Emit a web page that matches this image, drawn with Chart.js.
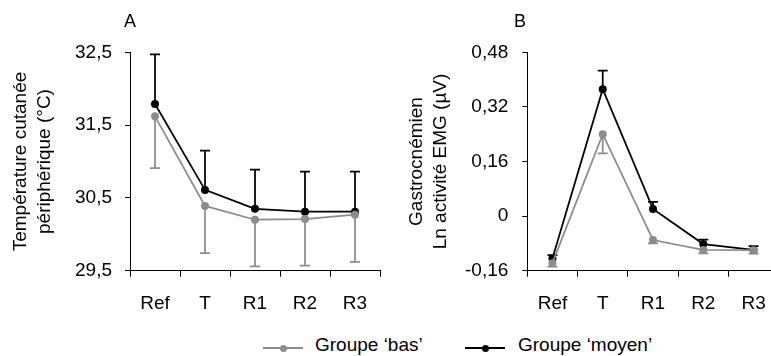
<!DOCTYPE html>
<html>
<head>
<meta charset="utf-8">
<script src="https://cdn.jsdelivr.net/npm/chart.js@4/dist/chart.umd.min.js"></script>
<style>
  html, body { margin:0; padding:0; background:#fff; overflow:hidden; width:771px; height:356px; }
  body { position:relative; font-family:'Liberation Sans', Arial, sans-serif; }
  canvas { position:absolute; top:0; }
  #cA { left:0; }
  #cB { left:390px; }
  .lg-line { position:absolute; height:2px; }
  .lg-dot { position:absolute; width:7px; height:7px; border-radius:50%; }
  .lg-text { position:absolute; top:334px; font-size:19px; line-height:22px; color:#000; white-space:nowrap; }
</style>
</head>
<body>
<canvas id="cA" width="390" height="320"></canvas>
<canvas id="cB" width="400" height="320"></canvas>

<div class="lg-line" style="left:263px; top:347px; width:40px; background:#8c8c8c;"></div>
<div class="lg-dot" style="left:279.5px; top:344.5px; background:#8c8c8c;"></div>
<div class="lg-text" style="left:315px;">Groupe ‘bas’</div>
<div class="lg-line" style="left:465px; top:347px; width:40px; background:#000;"></div>
<div class="lg-dot" style="left:481.5px; top:344.5px; background:#000;"></div>
<div class="lg-text" style="left:518px;">Groupe ‘moyen’</div>

<script>
// ---- data ----
const categories = ['Ref', 'T', 'R1', 'R2', 'R3'];
const seriesNames = ['Groupe ‘bas’', 'Groupe ‘moyen’'];

// Panel A : température cutanée périphérique (°C)
const tempBas      = [31.62, 30.39, 30.20, 30.21, 30.27];
const tempBasErr   = [0.71, 0.65, 0.64, 0.64, 0.65];
const tempMoyen    = [31.79, 30.61, 30.35, 30.31, 30.31];
const tempMoyenErr = [0.68, 0.54, 0.54, 0.55, 0.55];
const tempTicks    = [29.5, 30.5, 31.5, 32.5];

// Panel B : Ln activité EMG (µV)
const emgBas       = [-0.138, 0.240, -0.070, -0.099, -0.100];
const emgBasErr    = [0.010, 0.056, 0.010, 0.010, 0.010];
const emgMoyen     = [-0.124, 0.372, 0.021, -0.082, -0.099];
const emgMoyenErr  = [0.010, 0.054, 0.021, 0.013, 0.011];
const emgTicks     = [-0.16, 0, 0.16, 0.32, 0.48];

const GRAY = '#8c8c8c';
const BLACK = '#000000';
const FONT = "'Liberation Sans', Arial, sans-serif";

Chart.defaults.font.family = FONT;
Chart.defaults.color = '#000';

const errorBarPlugin = {
  id: 'errorBars',
  beforeDatasetsDraw(chart) {
    const ctx = chart.ctx;
    const ys = chart.scales.y;
    chart.data.datasets.forEach((ds, i) => {
      const meta = chart.getDatasetMeta(i);
      meta.data.forEach((pt, j) => {
        const v = ds.data[j];
        const e = ds.errors[j];
        const py = ys.getPixelForValue(v);
        const pe = ys.getPixelForValue(v + ds.errDir * e);
        ctx.save();
        ctx.strokeStyle = ds.borderColor;
        ctx.lineWidth = 1.75;
        ctx.beginPath();
        ctx.moveTo(pt.x, py);
        ctx.lineTo(pt.x, pe);
        ctx.moveTo(pt.x - 5, pe);
        ctx.lineTo(pt.x + 5, pe);
        ctx.stroke();
        ctx.restore();
      });
    });
  }
};

const panelLabelPlugin = {
  id: 'panelLabel',
  afterDraw(chart, args, opts) {
    const ctx = chart.ctx;
    ctx.save();
    ctx.font = '18px ' + FONT;
    ctx.fillStyle = '#000';
    ctx.textBaseline = 'alphabetic';
    ctx.textAlign = 'left';
    ctx.fillText(opts.text, opts.x, opts.y);
    ctx.restore();
  }
};

function makeDatasets(bas, basErr, moyen, moyenErr) {
  return [
    { label: seriesNames[0], data: bas, errors: basErr, errDir: -1,
      borderColor: GRAY, backgroundColor: GRAY, pointBackgroundColor: GRAY, pointBorderColor: GRAY,
      borderWidth: 1.75, pointRadius: 4, pointBorderWidth: 0, tension: 0 },
    { label: seriesNames[1], data: moyen, errors: moyenErr, errDir: 1,
      borderColor: BLACK, backgroundColor: BLACK, pointBackgroundColor: BLACK, pointBorderColor: BLACK,
      borderWidth: 1.75, pointRadius: 4, pointBorderWidth: 0, tension: 0 }
  ];
}

function makeOptions(cfg) {
  return {
    responsive: false,
    animation: false,
    devicePixelRatio: 1,
    layout: { padding: { top: 52.3, right: cfg.padRight, bottom: 0, left: 0 } },
    plugins: {
      legend: { display: false },
      tooltip: { enabled: false },
      panelLabel: { text: cfg.label, x: 124, y: 26.5 }
    },
    scales: {
      x: {
        type: 'category',
        offset: true,
        grid: { offset: true, drawOnChartArea: false, drawTicks: true, tickLength: 6, color: '#000', lineWidth: 1 },
        border: { display: true, color: '#000', width: 1 },
        ticks: { padding: 16, font: { size: 19 }, color: '#000', maxRotation: 0, autoSkip: false },
        afterFit(s) { s.height = 49.3; }
      },
      y: {
        min: cfg.min, max: cfg.max,
        afterBuildTicks(s) { s.ticks = cfg.ticks.map(v => ({ value: v })); },
        grid: { drawOnChartArea: false, drawTicks: true, tickLength: 5, color: '#000', lineWidth: 1 },
        border: { display: true, color: '#000', width: 1 },
        ticks: { padding: cfg.tickPad, font: { size: 19 }, color: '#000', callback: cfg.fmt },
        title: { display: true, text: cfg.title, color: '#000',
                 font: { size: 19, lineHeight: 1.25 }, padding: { top: cfg.titlePad, bottom: 0 } },
        afterFit(s) { s.width = cfg.axisX; }
      }
    }
  };
}

new Chart(document.getElementById('cA'), {
  type: 'line',
  data: { labels: categories, datasets: makeDatasets(tempBas, tempBasErr, tempMoyen, tempMoyenErr) },
  options: makeOptions({
    label: 'A', padRight: 10, min: 29.5, max: 32.5, ticks: tempTicks, tickPad: 13,
    fmt: v => Number(v).toFixed(1).replace('.', ','),
    title: ['Température cutanée', 'périphérique (°C)'], titlePad: 9, axisX: 130
  }),
  plugins: [errorBarPlugin, panelLabelPlugin]
});

new Chart(document.getElementById('cB'), {
  type: 'line',
  data: { labels: categories, datasets: makeDatasets(emgBas, emgBasErr, emgMoyen, emgMoyenErr) },
  options: makeOptions({
    label: 'B', padRight: 11.3, min: -0.16, max: 0.48, ticks: emgTicks, tickPad: 14,
    fmt: v => (Math.abs(v) < 1e-9 ? '0' : Number(v).toFixed(2).replace('.', ',')),
    title: ['Gastrocnémien', 'Ln activité EMG (µV)'], titlePad: 15, axisX: 137.3
  }),
  plugins: [errorBarPlugin, panelLabelPlugin]
});
</script>
</body>
</html>
